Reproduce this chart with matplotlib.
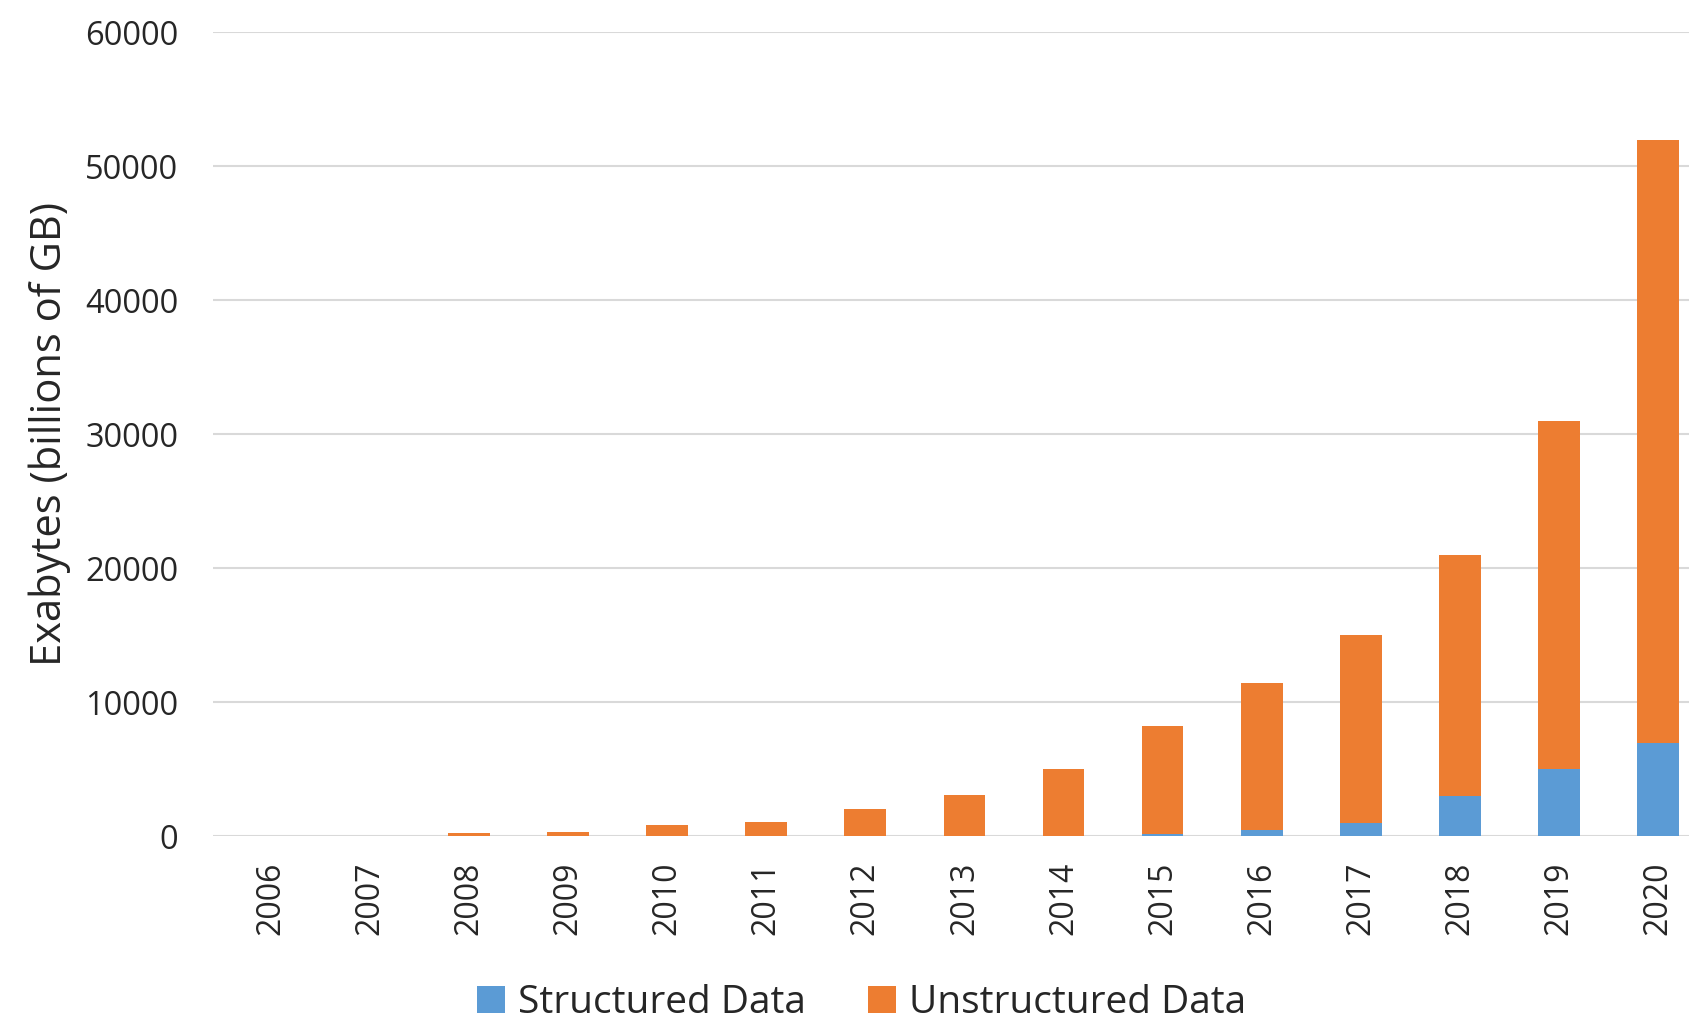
import matplotlib
matplotlib.use("Agg")
import matplotlib.pyplot as plt
import numpy as np

years = ["2006", "2007", "2008", "2009", "2010", "2011", "2012", "2013",
         "2014", "2015", "2016", "2017", "2018", "2019", "2020"]
total = [20, 60, 220, 350, 850, 1050, 2050, 3100, 5050, 8250, 11450, 15000, 21000, 31000, 52000]
structured = [0, 0, 0, 0, 0, 0, 0, 20, 50, 200, 500, 1000, 3000, 5000, 7000]
unstructured = [t - s for t, s in zip(total, structured)]
yticks = [0, 10000, 20000, 30000, 40000, 50000, 60000]

plt.rcParams['font.family'] = ['Open Sans', 'DejaVu Sans']
text_color = '#262626'

fig = plt.figure(figsize=(16.90, 10.19), dpi=100)
ax = fig.add_axes([213/1690, 1 - 836.4/1019, 1 - 213/1690, (836.4 - 32.3)/1019])

x = np.arange(len(years))
w = 0.42
ax.bar(x, structured, w, color='#5B9BD5', label='Structured Data', zorder=3)
ax.bar(x, unstructured, w, bottom=structured, color='#ED7D31', label='Unstructured Data', zorder=3)

ax.set_xlim(-0.58, 14.32)
ax.set_ylim(0, 60000)
ax.set_yticks(yticks)
ax.set_yticklabels([str(v) for v in yticks], fontsize=23.5, color=text_color)
ax.set_xticks(x)
ax.set_xticklabels(years, rotation=90, fontsize=23, color=text_color)
ax.tick_params(axis='both', length=0)
ax.tick_params(axis='y', pad=25)
ax.tick_params(axis='x', pad=18)
ax.yaxis.grid(True, color='#d9d9d9', linewidth=1.5, zorder=0)
for s in ax.spines.values():
    s.set_visible(False)
ax.set_ylabel('Exabytes (billions of GB)', fontsize=30, color=text_color, labelpad=10)

fig.legend(loc='center', bbox_to_anchor=(0.51, 0.0157), ncol=2, frameon=False,
           fontsize=28, handlelength=0.7, handleheight=0.7, handletextpad=0.35,
           columnspacing=1.6, labelcolor=text_color)

fig.savefig('out.png', dpi=100, facecolor='white')
